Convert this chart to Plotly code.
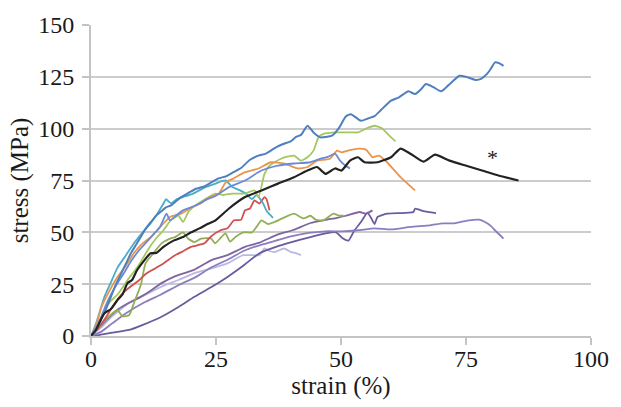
import plotly.graph_objects as go

# ---- data (strain %, stress MPa) ----
steel_x = [0,1,2,3,4,5,6,7,8,9,10,11,12,13,14,15,16,17,18,19.5,21,22.5,24,25.5,27,28.5,30,31.8,33.5,35,37,38.6,40,41,42,43.3,44.5,45.9,47,48.2,49.5,51,52,54,55.5,56.7,58,60,61.5,63.5,64.8,66,67,68.5,70,71.5,73.7,75,76.9,78,79.2,80,80.8,81.7,82.5]
steel_y = [0,3,8,13,19,25,30,35,40,44,48,52,55,58,60,62,63,65,67,69,71,72,74,76,77,79,81,85,87,88,91,92.7,94,96,97,101.4,98.2,95.8,96,96.6,100,106,107,103.8,105,106,109,113.5,115,118,116.7,119,121.5,120,118,121,125.5,125,123.5,124,126.4,129,132,131.5,130.3]

mblue_x = [0,1,2,3,4,5.3,6.5,8,9.5,11,12.5,13.8,15.1,15.8,17,18.4,20,21.7,23.3,24.9,27.6,30.8,34.1,37.4,40.6,43.9,45.9,47.5,48.8,49.8,51,51.8]
mblue_y = [0,4,9,15,20,25.5,30,36,41,45,49,52.6,59,55.8,58,60.6,62,63.9,66,67.5,71.8,75,79.8,82.2,83.2,83.8,85.5,86.5,88,84.6,82,80.8]

cyan_x = [0,1,2.7,4,5.3,7,8.6,10,11.9,13,14.5,15,16,17.2,18.4,20.4,22.9,24.9,26.9,28.2,30,31,32.2,33.1,34.4,35.2,36.4]
cyan_y = [0,6,19,26,33,39,44.7,49,54.3,58,63.9,66,64,66,67,68.7,71.8,73.5,75,72,70,68.7,66,68,64,60,57]

orange_x = [0,1,2.1,3.5,5.3,7,8.6,10,11.9,14,15.8,18,19.7,22,23.7,25.6,26.9,28.5,30.8,33.5,36,38.6,41.3,43.3,45.2,47.8,49.2,50.1,51.4,53.4,55,56.3,57.6,59.2,61.9,64.8]
orange_y = [0,5,14,21,28.5,34,40,44,47.7,53,57.4,59,61.5,64,67,68.7,74,76,79,80.8,83.8,83.2,80.8,81.5,84.6,85.5,89.4,88.6,89.4,90.4,89.9,86.2,87,83.8,76.6,70.2]

lgreen_x = [0,1,2,3,4,5.3,6.5,7.6,8.6,10,11.5,13,14.5,16,17.5,18.4,19.5,20.4,22.4,24.9,26.5,28.2,30.8,32.7,33.5,34.7,35.7,38,40.6,42,43.3,44.5,45.5,46.5,49.2,51.8,53.4,55,56.7,58.3,59.5,60.9]
lgreen_y = [0,4,9,14,17,20,24,28,31,36,42,47,51,56,58,55,60,62.2,65.4,68.7,68,68.7,68.7,70.2,67,78.2,82.2,85.5,87,84.6,86.2,89.4,95.8,97.5,98.2,98.2,98.2,100,101.4,100,97,93.9]

olive_x = [0,1.5,3,4.3,5.3,6.3,7.6,8.6,10,10.9,12.5,14.1,15.8,16.8,18.4,19.4,20.7,22,24,24.8,25.8,26.9,27.8,29,30.5,32.2,33.2,34.1,35.4,36.7,38.5,40.6,42.5,43.9,45,46.5,48.5,49.4,50.5]
olive_y = [0,4,8,11,12.5,9.5,10,16,25,35,40,44.7,47,47.7,50,47,45.3,47,47,44.7,47,49.5,45.5,48,50,50,53,55.8,54,55,57,59,56.7,58,56,55.8,59,58.2,58]

red_x = [0,1.5,3,4.5,6.3,8,9.6,11,12.9,14.5,16.8,18.5,20,22.7,24,25.9,27.3,28.6,30,30.8,31.8,32.7,33.7,34.7,35.1,35.7]
red_y = [0,4,9,15,20.6,24,26.9,30,32.7,35,38.9,41,43,44.7,48,51,52,55.8,56,60.6,61.5,65.4,63.9,67,66,60.6]

black_x = [0,1,2,2.7,4,5.3,6.3,7.3,8.2,9.2,10.5,11.9,13,14.5,16.5,18.4,20,21.7,23.3,24.9,27.6,30.8,34.1,37.4,40.6,43.3,45.2,46.9,48.8,50.1,51.8,53.4,54.7,57.3,60,61.9,63.9,66.5,68.8,71.7,74.9,78.2,81.5,85.5]
black_y = [0,3,8,11,13,17.3,20,25.5,27,31.7,36,39.9,40,43,46,47.7,50,51.9,54,55.8,61.5,67,70.2,73.5,76.6,79.8,81.5,78.2,80.8,79.8,84.6,86.2,83.8,83.8,86.2,90.4,87.9,84.1,87.5,84.6,82.2,79.8,77.4,75]

purple1_x = [0,2,4,5.5,7.6,10,12,14.1,17,20.7,24,27.3,30.8,33.7,37.4,40.3,43.9,46.9,49.2,51,53.7,55,56.3]
purple1_y = [0,5,10,13,16,19,22,25.5,29,32,36.5,39,43,45,49,51,54.5,56,57,58,59.8,59,60.6]

purple2_x = [0,2,4.3,7,10.9,14,17.5,21,24,27.5,30.5,34,37,40,43.5,46.9,50.1,53.4,56.7,60,63.9,67.8,70.4,72.4,74,75.6,77.6,78.8,80,80.8,82.5]
purple2_y = [0,2,6.2,11,16.5,20,24.5,28.5,33,37,41,44,46,48,49.7,50.5,50.5,51,51.9,51.4,52.6,53.4,54.3,54.3,55,55.8,56.1,55,53,51,47]

purple3_x = [0,1.8,4,7.6,10.5,14.1,17.5,20.7,24,27.3,30.5,33.7,37,40.3,43.5,46.9,49,50.4,51.5,52.7,54,55.3,56,56.7,57.3,59.2,61.9,63.5,64.5,64.8,66.5,69]
purple3_y = [0,0.5,1.5,2.9,5.5,9.3,14,18.9,23.5,28.5,34,39.9,43,45.4,47.5,49.5,50,47,46,51,55,59.5,57,54,57.4,59,59.3,59.5,59.8,61.4,60.2,59.3]

lav_x = [0,2,4,7.6,11,14.1,17.5,20.7,24,27.3,29.5,30.5,32.2,33.7,34.7,35.7,36.7,38.6,40,41,42]
lav_y = [0,4,9,15.9,20,23.8,27,30.3,32.5,35,38,39,39,39,42.3,41,40.5,42.2,40.5,40,39]

x_ticks = [0, 25, 50, 75, 100]
y_ticks = [0, 25, 50, 75, 100, 125, 150]
marker_label = "*"
marker_pos = (80.3, 86)

series = [
    ("lavender", lav_x, lav_y, "#B9B9E2", 1.8),
    ("purple3", purple3_x, purple3_y, "#6A5A9E", 1.8),
    ("purple2", purple2_x, purple2_y, "#8C7DBE", 1.8),
    ("purple1", purple1_x, purple1_y, "#8064A2", 1.8),
    ("olive", olive_x, olive_y, "#93AE57", 1.8),
    ("red", red_x, red_y, "#D0504F", 1.8),
    ("cyan", cyan_x, cyan_y, "#4BACC6", 1.8),
    ("lgreen", lgreen_x, lgreen_y, "#A3C862", 1.8),
    ("orange", orange_x, orange_y, "#E9964C", 1.8),
    ("mblue", mblue_x, mblue_y, "#6A8AD6", 1.8),
    ("steel", steel_x, steel_y, "#4F7FBF", 2.0),
    ("black", black_x, black_y, "#222222", 2.2),
]

fig = go.Figure()
for name, xs, ys, col, w in series:
    fig.add_trace(go.Scatter(x=xs, y=ys, mode="lines", name=name,
                             line=dict(color=col, width=w, shape="spline", smoothing=0.5),
                             showlegend=False, hoverinfo="skip"))

font_family = "Liberation Serif, Times New Roman, serif"
fig.add_annotation(x=marker_pos[0], y=marker_pos[1], text=marker_label, showarrow=False,
                   font=dict(family=font_family, size=22, color="#222222"))

fig.update_layout(
    width=621, height=407,
    margin=dict(l=91, r=20, t=24, b=71),
    paper_bgcolor="white", plot_bgcolor="white",
    font=dict(family=font_family, size=24, color="#1a1a1a"),
    xaxis=dict(range=[0, 100], tickvals=x_ticks, showgrid=False, zeroline=False,
               showline=True, linecolor="#c4c4c4", linewidth=2,
               ticks="outside", ticklen=7, tickwidth=1.5, tickcolor="#c4c4c4",
               ticklabelstandoff=-7,
               title=dict(text="strain (%)", font=dict(size=25), standoff=0),
               tickfont=dict(size=24)),
    yaxis=dict(range=[0, 150], tickvals=y_ticks, showgrid=True, gridcolor="#cccccc", gridwidth=1.8,
               zeroline=False, showline=True, linecolor="#c4c4c4", linewidth=2,
               ticks="outside", ticklen=7, tickwidth=1.5, tickcolor="#c4c4c4",
               ticklabelstandoff=3,
               title=dict(text="stress (MPa)", font=dict(size=25), standoff=2),
               tickfont=dict(size=24)),
)

fig.write_html("out.html")
